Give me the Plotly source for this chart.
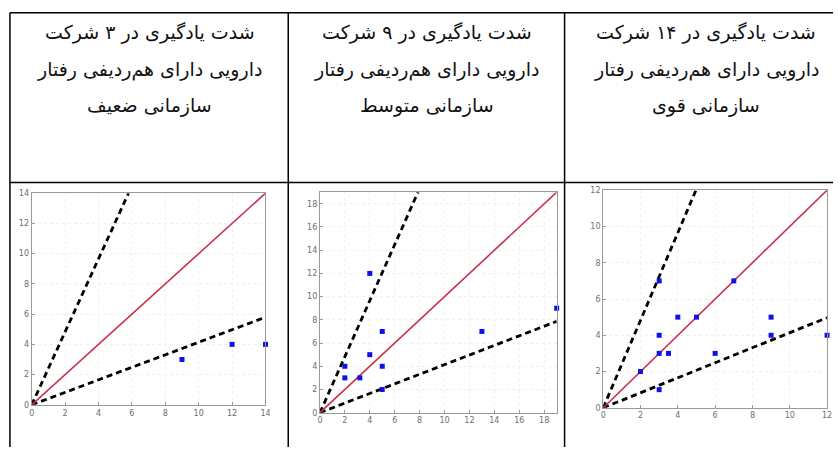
import plotly.graph_objects as go

W, H = 838, 452

# Column headers (three lines each)
headers = [
    ["شدت یادگیری در ۳ شرکت", "دارویی دارای هم\u200cردیفی رفتار", "سازمانی ضعیف"],
    ["شدت یادگیری در ۹ شرکت", "دارویی دارای هم\u200cردیفی رفتار", "سازمانی متوسط"],
    ["شدت یادگیری در ۱۴ شرکت", "دارویی دارای هم\u200cردیفی رفتار", "سازمانی قوی"],
]

# Company scatter values per panel
weak_x = [9, 12, 14]
weak_y = [3, 4, 4]
medium_x = [2, 2, 3.2, 4, 4, 5, 5, 5, 13, 19]
medium_y = [4, 3, 3, 12, 5, 7, 4, 2, 7, 9]
strong_x = [2, 3, 3, 3, 3, 3.5, 4, 5, 6, 7, 9, 9, 12]
strong_y = [2, 7, 4, 3, 1, 3, 5, 5, 3, 7, 5, 4, 4]

# Axis limits and tick steps per panel
axis_max = [14, 19, 12]
tick_step = [2, 2, 2]

# Reference lines through the origin: steep dashed, diagonal, shallow dashed
steep_slope = 2.414
diag_slope = 1.0
shallow_slope = 0.414

panels_x = [weak_x, medium_x, strong_x]
panels_y = [weak_y, medium_y, strong_y]

# Pixel boxes of the plot areas: (left, right, top, bottom)
boxes = [(29, 265, 193, 409), (320, 559, 192, 417), (606, 832, 190, 412)]


def px_x(v):
    return v / W


def px_y(v):
    return 1 - v / H


def ray(slope, m):
    # segment from origin to where the ray leaves the square [0, m]
    if slope >= 1:
        return [0, m / slope], [0, m]
    return [0, m], [0, m * slope]


fig = go.Figure()
layout_axes = {}

for i in range(3):
    n = "" if i == 0 else str(i + 1)
    xa, ya = "x" + n, "y" + n
    m = axis_max[i]
    for slope, color, dash, width in [
        (steep_slope, "black", "6px,4px", 2.8),
        (shallow_slope, "black", "6px,4px", 2.8),
        (diag_slope, "#c8324a", "solid", 1.6),
    ]:
        lx, ly = ray(slope, m)
        fig.add_trace(go.Scatter(
            x=lx, y=ly, mode="lines", xaxis=xa, yaxis=ya,
            line=dict(color=color, width=width, dash=dash),
            showlegend=False, hoverinfo="skip", cliponaxis=False,
        ))
    fig.add_trace(go.Scatter(
        x=panels_x[i], y=panels_y[i], mode="markers", xaxis=xa, yaxis=ya,
        marker=dict(symbol="square", size=5, color="#1010e8"),
        showlegend=False, cliponaxis=False,
    ))

    l, r, t, b = boxes[i]
    ticks = list(range(0, m + 1, tick_step[i]))
    common = dict(
        range=[0, m], tickvals=ticks, showline=True, mirror=True,
        linecolor="#9a9a9a", linewidth=1.2, showgrid=True,
        gridcolor="#f0f0f0", griddash="dot", gridwidth=1,
        zeroline=False, ticks="inside", ticklen=3, tickcolor="#9a9a9a",
        tickfont=dict(family="DejaVu Sans", size=8, color="#6e6e6e"),
        fixedrange=True,
    )
    layout_axes["xaxis" + n] = dict(
        common, domain=[px_x(l), px_x(r)], anchor=ya)
    layout_axes["yaxis" + n] = dict(
        common, domain=[px_y(b), px_y(t)], anchor=xa)

# Table grid lines
line = dict(color="black", width=1.5)
shapes = [
    dict(type="line", xref="paper", yref="paper",
         x0=px_x(7), x1=1.0, y0=px_y(9), y1=px_y(9), line=line),
    dict(type="line", xref="paper", yref="paper",
         x0=px_x(7), x1=1.0, y0=px_y(182), y1=px_y(182), line=line),
]
for xv in [7, 288, 567]:
    shapes.append(dict(type="line", xref="paper", yref="paper",
                       x0=px_x(xv), x1=px_x(xv), y0=px_y(9), y1=0,
                       line=line))

# Header text, one annotation per line
col_centers = [148, 428, 710]
line_y = [29, 67, 104]
annotations = []
for c, lines in zip(col_centers, headers):
    for ly, txt in zip(line_y, lines):
        annotations.append(dict(
            text=txt, x=px_x(c), y=px_y(ly), xref="paper", yref="paper",
            xanchor="center", yanchor="middle", showarrow=False,
            font=dict(family="DejaVu Sans", size=19, color="#111111"),
        ))

fig.update_layout(
    width=W, height=H, margin=dict(l=0, r=0, t=0, b=0),
    paper_bgcolor="white", plot_bgcolor="white",
    shapes=shapes, annotations=annotations, **layout_axes,
)

fig.write_html("out.html", include_plotlyjs=True, full_html=True,
               config={"displayModeBar": False})
